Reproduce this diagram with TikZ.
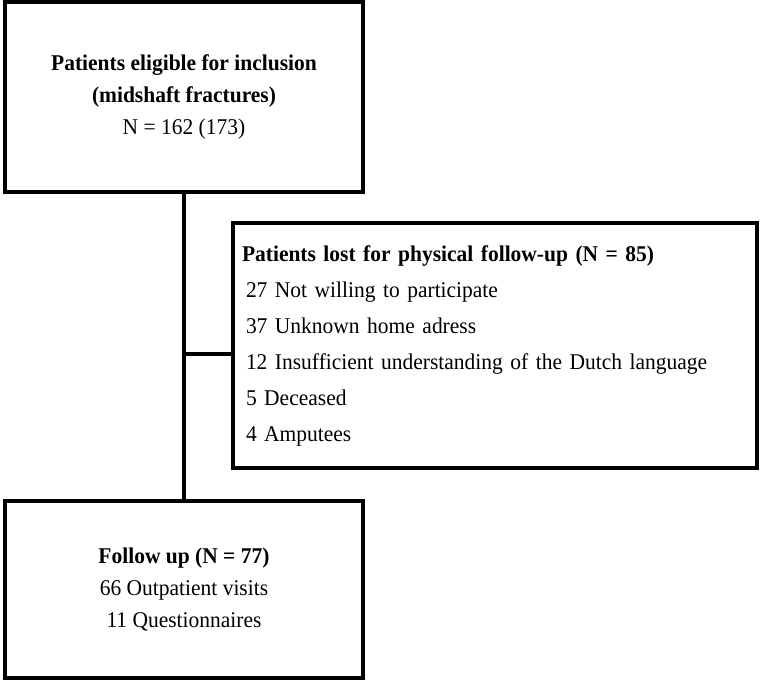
\documentclass[tikz,border=0pt]{standalone}
\usepackage{fontspec}
\setmainfont[FakeStretch=0.955]{Liberation Serif}
\usepackage{tikz}
\usetikzlibrary{positioning,calc}

\begin{document}
\begin{tikzpicture}[x=1pt,y=-1pt, every node/.style={font=\fontsize{22.5}{32}\selectfont}]
  \useasboundingbox (0,0) rectangle (762,681);
  \tikzset{flowbox/.style={draw,line width=3.2pt,inner sep=0pt,align=center}}
  \node[flowbox,minimum width=358pt,minimum height=190pt] (eligible) at (184,97)
    {\textbf{Patients eligible for inclusion}\\\textbf{(midshaft fractures)}\\N = 162 (173)};
  \node[flowbox,align=left,text width=506pt,inner xsep=9pt,minimum height=245pt,
        font=\fontsize{22.5}{36}\selectfont] (lost) at (495,345.5)
    {\textbf{Patients lost for physical follow-up (N = 85)}\\
     \hspace{4pt}27 Not willing to participate\\
     \hspace{4pt}37 Unknown home adress\\
     \hspace{4pt}12 Insufficient understanding of the Dutch language\\
     \hspace{4pt}5 Deceased\\
     \hspace{4pt}4 Amputees};
  \node[flowbox,minimum width=358pt,minimum height=177pt] (followup) at (184,589.5)
    {\textbf{Follow up (N = 77)}\\66 Outpatient visits\\11 Questionnaires};

  \coordinate (branch) at (eligible.south |- 0,354);
  \draw[line width=3.2pt] (eligible.south) -- (followup.north);
  \draw[line width=3.2pt] (branch) -- (branch -| lost.west);
\end{tikzpicture}
\end{document}
